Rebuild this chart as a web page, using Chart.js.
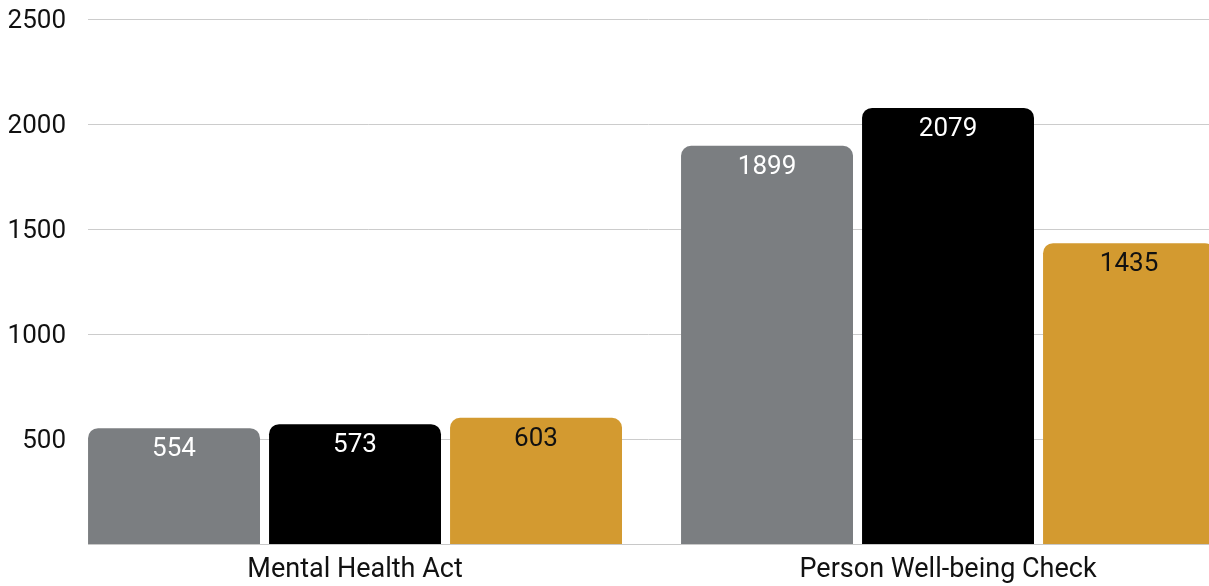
<!DOCTYPE html>
<html>
<head>
<meta charset="utf-8">
<script src="https://cdn.jsdelivr.net/npm/chart.js@4.4.0/dist/chart.umd.min.js"></script>
<style>
  html, body { margin: 0; padding: 0; background: #fff; overflow: hidden; }
  #wrap { width: 1209px; height: 586px; position: relative; }
</style>
</head>
<body>
<div id="wrap"><canvas id="c"></canvas></div>
<script>
const categories = ['Mental Health Act', 'Person Well-being Check'];
const seriesA = [554, 1899];
const seriesB = [573, 2079];
const seriesC = [603, 1435];
const seriesNames = ['Series 1', 'Series 2', 'Series 3'];
const yTicks = [500, 1000, 1500, 2000, 2500];

const colors = ['#7b7e81', '#000000', '#d39a30'];
const labelColors = ['#ffffff', '#ffffff', '#111111'];
const FONT = 'Roboto, "Noto Sans", sans-serif';

const toPoints = arr => arr.map((v, i) => ({ x: i, y: v }));

const barLabels = {
  id: 'barLabels',
  afterDatasetsDraw(chart) {
    const ctx = chart.ctx;
    ctx.save();
    ctx.beginPath();
    const a = chart.chartArea;
    ctx.rect(a.left, 0, a.right - a.left, chart.height);
    ctx.clip();
    chart.data.datasets.forEach((ds, di) => {
      const meta = chart.getDatasetMeta(di);
      meta.data.forEach((el, i) => {
        const v = ds.data[i].y;
        ctx.font = '26px ' + FONT;
        ctx.fillStyle = labelColors[di];
        ctx.textAlign = 'center';
        ctx.textBaseline = 'middle';
        ctx.fillText(String(v), el.x, el.y + 21.5);
      });
    });
    ctx.restore();
  }
};

new Chart(document.getElementById('c'), {
  type: 'bar',
  data: {
    datasets: [
      { label: seriesNames[0], data: toPoints(seriesA), backgroundColor: colors[0] },
      { label: seriesNames[1], data: toPoints(seriesB), backgroundColor: colors[1] },
      { label: seriesNames[2], data: toPoints(seriesC), backgroundColor: colors[2] }
    ]
  },
  options: {
    responsive: true,
    maintainAspectRatio: false,
    animation: false,
    layout: { padding: { top: 19.5, right: 0, left: 0, bottom: 0 } },
    datasets: {
      bar: {
        categoryPercentage: 0.9157,
        barPercentage: 0.95,
        borderRadius: { topLeft: 10, topRight: 10, bottomLeft: 0, bottomRight: 0 },
        borderSkipped: 'start'
      }
    },
    plugins: {
      legend: { display: false },
      tooltip: { enabled: false }
    },
    scales: {
      x: {
        type: 'linear',
        offset: false,
        min: -0.4503,
        max: 1.4401,
        afterBuildTicks: s => { s.ticks = categories.map((_, i) => ({ value: i })); },
        afterFit: s => { s.height = 41.5; s.paddingLeft = 0; s.paddingRight = 0; },
        ticks: {
          autoSkip: false,
          maxRotation: 0,
          padding: 10,
          color: '#111',
          font: { family: FONT, size: 27 },
          callback: v => categories[v]
        },
        grid: { display: false, drawTicks: false, offset: false },
        border: { display: true, color: '#c8c8c8', width: 1 }
      },
      y: {
        min: 0,
        max: 2500,
        afterBuildTicks: s => { s.ticks = [0].concat(yTicks).map(v => ({ value: v })); },
        afterFit: s => { s.width = 88; s.paddingTop = 0; s.paddingBottom = 0; },
        ticks: {
          padding: 22,
          labelOffset: 2,
          color: '#111',
          font: { family: FONT, size: 26 },
          callback: v => (v === 0 ? '' : String(v))
        },
        grid: { color: '#cccccc', lineWidth: 1, drawTicks: false },
        border: { display: false }
      }
    }
  },
  plugins: [barLabels]
});
</script>
</body>
</html>
